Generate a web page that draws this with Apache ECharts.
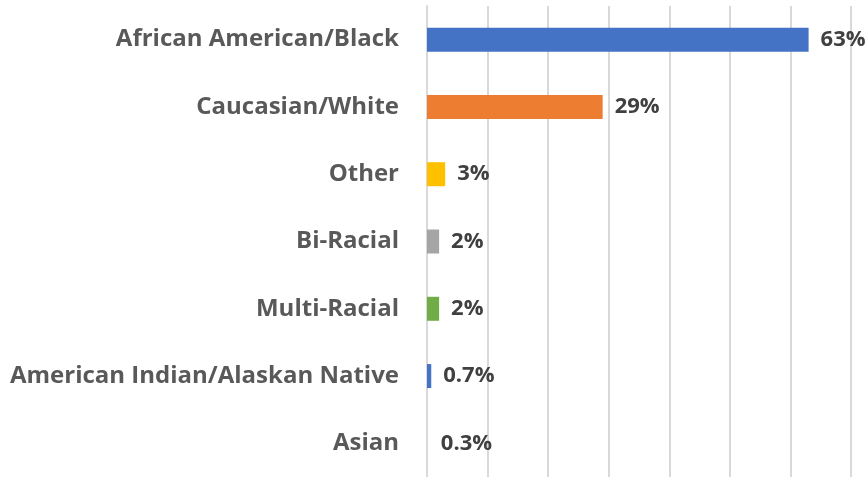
<!DOCTYPE html>
<html>
<head>
<meta charset="utf-8">
<script src="https://cdn.jsdelivr.net/npm/echarts@6/dist/echarts.min.js"></script>
<style>
  html, body { margin: 0; padding: 0; background: #fff; }
  #chart { width: 867px; height: 477px; }
</style>
</head>
<body>
<div id="chart"></div>
<script>
var categories = ['African American/Black', 'Caucasian/White', 'Other', 'Bi-Racial', 'Multi-Racial', 'American Indian/Alaskan Native', 'Asian']
var percents = [63, 29, 3, 2, 2, 0.7, 0.3]
// the Asian bar is too thin to show up in the original
var barColors = ['#4472C4', '#ED7D31', '#FFC000', '#A5A5A5', '#70AD47', '#4472C4', 'rgba(237,125,49,0)']

var chart = echarts.init(document.getElementById('chart'))
chart.setOption({
  backgroundColor: '#ffffff',
  animation: false,
  grid: {
    left: 427,
    right: 16,
    top: 6,
    bottom: -4
  },
  xAxis: {
    type: 'value',
    min: 0,
    max: 70,
    interval: 10,
    axisLine: { show: false },
    axisTick: { show: false },
    axisLabel: { show: false },
    splitLine: {
      show: true,
      lineStyle: { color: '#d9d9d9', width: 2 }
    }
  },
  yAxis: {
    type: 'category',
    inverse: true,
    data: categories,
    axisLine: {
      lineStyle: { color: '#d9d9d9', width: 2 }
    },
    axisTick: {
      length: 9,
      lineStyle: { color: '#d9d9d9', width: 2 }
    },
    axisLabel: {
      margin: 28,
      padding: [4, 0, 0, 0],
      color: '#595959',
      fontFamily: 'Open Sans',
      fontWeight: 'bold',
      fontSize: 24
    }
  },
  series: [{
    type: 'bar',
    barWidth: 24,
    data: percents.map(function (v, i) {
      return { value: v, itemStyle: { color: barColors[i] } }
    }),
    label: {
      show: true,
      position: 'right',
      distance: 12,
      padding: [4, 0, 0, 0],
      color: '#404040',
      fontFamily: 'Open Sans',
      fontWeight: 'bold',
      fontSize: 22,
      formatter: function (p) { return p.value + '%' }
    }
  }]
})
window.onresize = function () {
  chart.resize()
}
</script>
</body>
</html>
